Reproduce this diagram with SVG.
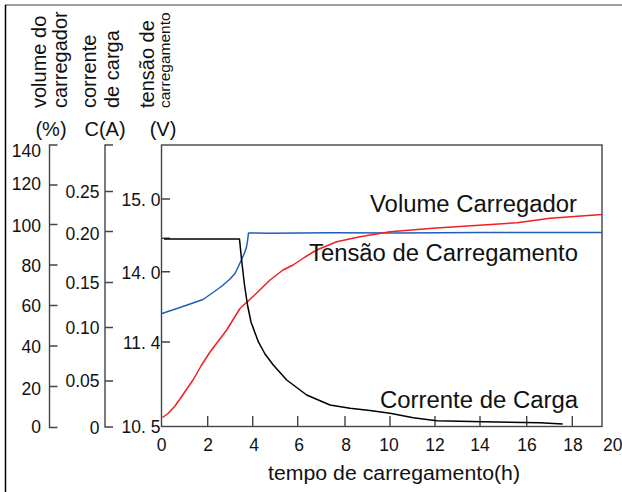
<svg xmlns="http://www.w3.org/2000/svg" width="622" height="492" viewBox="0 0 622 492">
<style>
text{font-family:"Liberation Sans",Arial,sans-serif;fill:#111}
.tk{font-size:17.5px}
.r{text-anchor:end}
.m{text-anchor:middle}
.ax{stroke:#444;stroke-width:1.4;fill:none}
.cv{fill:none;stroke-width:1.5;stroke-linejoin:round}
.lab{font-size:23px}
.vl{font-size:20px}
</style>
<rect width="622" height="492" fill="#fff"/>
<g id="frame">
<line x1="5" y1="5" x2="622" y2="5" stroke="#808080" stroke-width="1.6"/>
<line x1="5.5" y1="5" x2="5.5" y2="492" stroke="#000" stroke-width="1.5"/>
</g>
<g id="axis-labels">
<text class="vl" transform="translate(46,108) rotate(-90)">volume do</text>
<text class="vl" transform="translate(67,108) rotate(-90)">carregador</text>
<text class="vl" transform="translate(96,108) rotate(-90)">corrente</text>
<text class="vl" transform="translate(119,108) rotate(-90)">de carga</text>
<text class="vl" transform="translate(153.5,108) rotate(-90)">tensão de</text>
<text transform="translate(169.5,108) rotate(-90)" style="font-size:15.5px">carregamento</text>
<text class="vl m" x="51" y="136">(%)</text>
<text class="vl m" x="105" y="136">C(A)</text>
<text class="vl m" x="163" y="136">(V)</text>
</g>
<g id="axis-volume">
<path class="ax" d="M57.5,145H49.5V427.5H57.5M49.5,185H57.5M49.5,224.5H57.5M49.5,265H57.5M49.5,305.5H57.5M49.5,346H57.5M49.5,386.5H57.5"/>
<text class="tk r" x="41" y="156.7">140</text>
<text class="tk r" x="41" y="190">120</text>
<text class="tk r" x="41" y="231.7">100</text>
<text class="tk r" x="41" y="271.7">80</text>
<text class="tk r" x="41" y="311.7">60</text>
<text class="tk r" x="41" y="352.7">40</text>
<text class="tk r" x="41" y="395">20</text>
<text class="tk r" x="41" y="433.3">0</text>
</g>
<g id="axis-current">
<path class="ax" d="M113,145H105V427H113M105,191.5H113M105,231.5H113M105,282.5H113M105,327.5H113M105,381H113"/>
<text class="tk r" x="99.5" y="198.3">0.25</text>
<text class="tk r" x="99.5" y="240">0.20</text>
<text class="tk r" x="99.5" y="289.3">0.15</text>
<text class="tk r" x="99.5" y="334">0.10</text>
<text class="tk r" x="99.5" y="387.3">0.05</text>
<text class="tk r" x="99.5" y="434">0</text>
</g>
<g id="axis-voltage">
<rect class="ax" x="161.5" y="145" width="440.5" height="281.5"/>
<path class="ax" d="M161.5,199H170M161.5,238.3H170M161.5,271.7H170M161.5,342H170"/>
<text class="tk r" x="160.5" y="206">15. 0</text>
<text class="tk r" x="160.5" y="279.3">14. 0</text>
<text class="tk r" x="160.5" y="349.3">11. 4</text>
<text class="tk r" x="160.5" y="433.3">10. 5</text>
</g>
<g id="axis-time">
<path class="ax" d="M207.7,426.5V416M252.7,426.5V416M297.7,426.5V416M345,426.5V416M390,426.5V416M435,426.5V416M480,426.5V416M526.7,426.5V416M572.3,426.5V416"/>
<text class="tk m" x="161.7" y="450.5">0</text>
<text class="tk m" x="208" y="450.5">2</text>
<text class="tk m" x="254" y="450.5">4</text>
<text class="tk m" x="299" y="450.5">6</text>
<text class="tk m" x="346" y="450.5">8</text>
<text class="tk m" x="389" y="450.5">10</text>
<text class="tk m" x="435" y="450.5">12</text>
<text class="tk m" x="480" y="450.5">14</text>
<text class="tk m" x="527" y="450.5">16</text>
<text class="tk m" x="573" y="450.5">18</text>
<text class="tk m" x="612.7" y="450.5">20</text>
<text x="268" y="480" style="font-size:20.5px" textLength="252" lengthAdjust="spacingAndGlyphs">tempo de carregamento(h)</text>
</g>
<g id="curves">
<path id="volume" class="cv" stroke="#1f5fb8" d="M162,313.5L180,307.5L203,299.5L213,292.5L222,286L230,279L235,273.5L240,263L244.5,253L246.5,247L247.5,241L248.5,233L270,233.3L330,232.8L400,233L480,232.6L602,232.5"/>
<path id="tension" class="cv" stroke="#f02020" d="M162.5,417.5L168,413.5L175,406L182,396L193,380L201,366L210,352L226.7,330L240,308.5L256.7,293L270,280L283,270L293,265L305,257L316.7,250L336.7,241.7L360,236.7L390,231.7L433,228.3L483,225L517,222.7L550,218.3L602,214.5"/>
<path id="current" class="cv" stroke="#000" d="M164,239H239.5L241.5,259L244.5,285L247.5,305L251,322L258.3,341.7L265,354L273.3,365L286.7,380L306.7,395L330,405L350,408.3L370,410.5L390,413.3L413.3,417.7L436.7,420.7L483.3,421.7L540,422.7L562.7,424"/>
</g>
<g id="curve-labels">
<text class="lab" x="370" y="211.7" textLength="207" lengthAdjust="spacingAndGlyphs">Volume Carregador</text>
<text class="lab" x="309" y="261" textLength="269" lengthAdjust="spacingAndGlyphs">Tensão de Carregamento</text>
<text class="lab" x="380" y="408.3" textLength="198" lengthAdjust="spacingAndGlyphs">Corrente de Carga</text>
</g>
</svg>
